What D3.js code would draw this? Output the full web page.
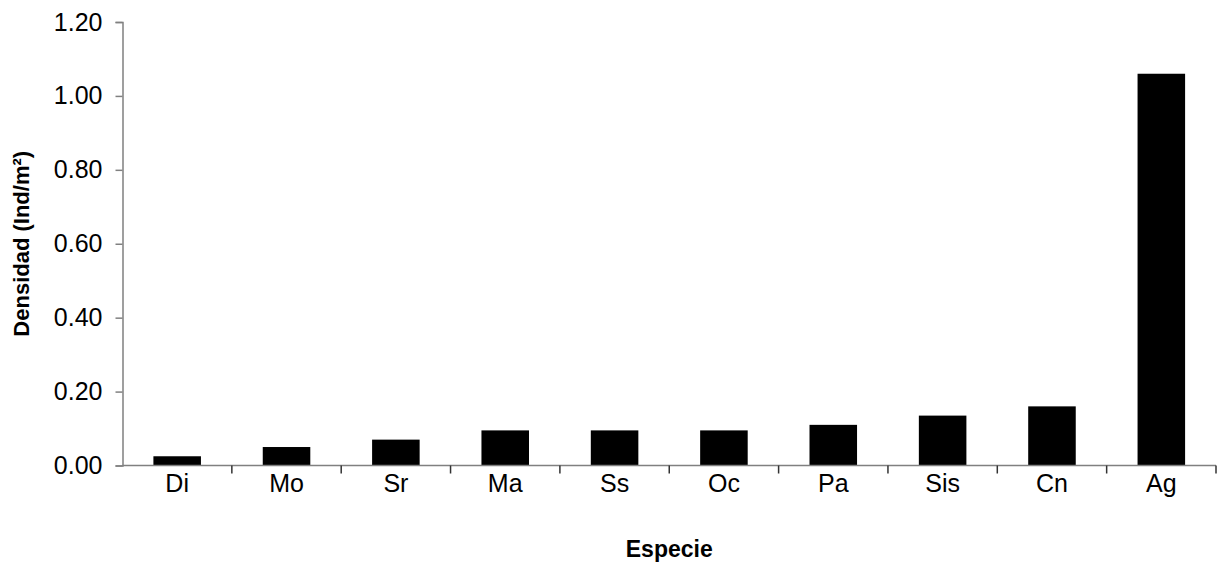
<!DOCTYPE html>
<html>
<head>
<meta charset="utf-8">
<script src="https://cdn.jsdelivr.net/npm/d3@7"></script>
<style>
  html, body { margin: 0; padding: 0; background: #fff; }
  svg { display: block; font-family: "Liberation Sans", Arial, sans-serif; }
</style>
</head>
<body>
<svg id="chart" width="1219" height="569"></svg>
<script>
// Species codes along the x axis
const species = ["Di", "Mo", "Sr", "Ma", "Ss", "Oc", "Pa", "Sis", "Cn", "Ag"];
// Density per species (individuals per square metre)
const density = [0.025, 0.05, 0.07, 0.095, 0.095, 0.095, 0.11, 0.135, 0.16, 1.06];
// Y-axis tick values
const yTicks = [0, 0.2, 0.4, 0.6, 0.8, 1.0, 1.2];

const svg = d3.select("#chart");
const margin = { left: 122.5, right: 3, top: 22, bottom: 103.5 };
const W = 1219, H = 569;
const tickFont = 25;

const x = d3.scaleBand()
  .domain(species)
  .range([margin.left, W - margin.right])
  .paddingInner(1.3 / 2.3)
  .paddingOuter(1.3 / 2.3 / 2);

const y = d3.scaleLinear()
  .domain([0, 1.2])
  .range([H - margin.bottom, margin.top]);

// Bars
svg.append("g")
  .selectAll("rect")
  .data(species.map((s, i) => ({ s, v: density[i] })))
  .join("rect")
  .attr("x", d => x(d.s))
  .attr("y", d => y(d.v))
  .attr("width", x.bandwidth())
  .attr("height", d => y(0) - y(d.v))
  .attr("fill", "#000");

// Y axis
const yAxis = svg.append("g")
  .attr("transform", `translate(${margin.left},0)`)
  .call(d3.axisLeft(y).tickValues(yTicks).tickFormat(d3.format(".2f")).tickSize(7).tickPadding(13));
yAxis.select(".domain").attr("stroke", "#808080").attr("stroke-width", 1.5);
yAxis.selectAll(".tick line").attr("stroke", "#808080").attr("stroke-width", 1.5);
yAxis.selectAll(".tick text").attr("font-size", tickFont).attr("fill", "#000")
  .attr("font-family", "'Liberation Sans', Arial, sans-serif");

// X axis: ticks sit on band boundaries
const xAxisG = svg.append("g")
  .attr("transform", `translate(0,${y(0)})`);
xAxisG.append("line")
  .attr("x1", margin.left).attr("x2", W - margin.right)
  .attr("stroke", "#808080").attr("stroke-width", 1.5);
const step = x.step();
const bounds = d3.range(species.length + 1).map(i => margin.left + i * step);
xAxisG.selectAll("line.tk")
  .data(bounds.slice(1))
  .join("line")
  .attr("class", "tk")
  .attr("x1", d => d).attr("x2", d => d)
  .attr("y1", 0).attr("y2", 8)
  .attr("stroke", "#333").attr("stroke-width", 1.5);
xAxisG.selectAll("text")
  .data(species)
  .join("text")
  .attr("x", d => x(d) + x.bandwidth() / 2)
  .attr("y", 26)
  .attr("text-anchor", "middle")
  .attr("font-size", tickFont)
  .text(d => d);

// Axis titles
svg.append("text")
  .attr("x", (margin.left + W - margin.right) / 2)
  .attr("y", 557)
  .attr("text-anchor", "middle")
  .attr("font-size", 23)
  .attr("font-weight", "bold")
  .text("Especie");

svg.append("text")
  .attr("transform", `translate(29,${(margin.top + H - margin.bottom) / 2}) rotate(-90)`)
  .attr("text-anchor", "middle")
  .attr("font-size", 22)
  .attr("font-weight", "bold")
  .text("Densidad (Ind/m²)");
</script>
</body>
</html>
